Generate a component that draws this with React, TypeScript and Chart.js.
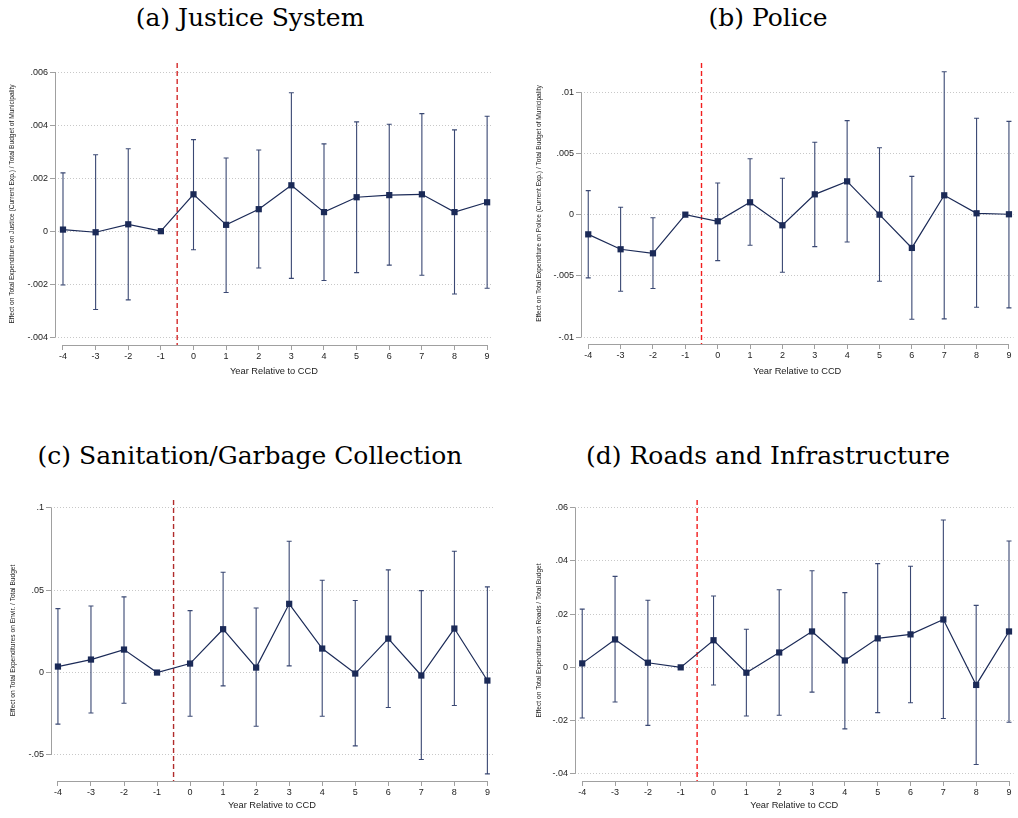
import React, { useEffect, useRef } from 'react';
import { Chart, registerables } from 'chart.js';

Chart.register(...registerables);

// ---------------- data ----------------
const years = [-4, -3, -2, -1, 0, 1, 2, 3, 4, 5, 6, 7, 8, 9];
const yearLabels = ['-4', '-3', '-2', '-1', '0', '1', '2', '3', '4', '5', '6', '7', '8', '9'];
const cutoffYear = -0.5;
const xAxisTitle = 'Year Relative to CCD';

// (a) Justice System
const justiceCoef = [0.00006, -0.00004, 0.00026, 0, 0.00139, 0.00024, 0.00083, 0.00173, 0.00072, 0.00128, 0.00136, 0.00139, 0.00072, 0.00109];
const justiceHi = [0.0022, 0.00288, 0.00311, 0, 0.00345, 0.00276, 0.00306, 0.00522, 0.00329, 0.00412, 0.00403, 0.00443, 0.00382, 0.00433];
const justiceLo = [-0.00203, -0.00295, -0.00259, 0, -0.0007, -0.00231, -0.00139, -0.00178, -0.00186, -0.00156, -0.00128, -0.00166, -0.00237, -0.00215];
const justiceTicks = [-0.004, -0.002, 0, 0.002, 0.004, 0.006];
const justiceTickLabels = ['-.004', '-.002', '0', '.002', '.004', '.006'];

// (b) Police
const policeCoef = [-0.00161, -0.00283, -0.00316, 0, -0.00054, 0.00101, -0.00087, 0.00166, 0.00272, 0.0, -0.00272, 0.00158, 0.00011, 0.00003];
const policeHi = [0.00196, 0.0006, -0.00025, 0, 0.00259, 0.00457, 0.00297, 0.00591, 0.00768, 0.00547, 0.00313, 0.01168, 0.00787, 0.00762];
const policeLo = [-0.00517, -0.00626, -0.00604, 0, -0.00376, -0.0025, -0.00471, -0.00261, -0.00223, -0.00544, -0.00855, -0.00852, -0.00757, -0.00762];
const policeTicks = [-0.01, -0.005, 0, 0.005, 0.01];
const policeTickLabels = ['-.01', '-.005', '0', '.005', '.01'];

// (c) Sanitation/Garbage Collection
const sanitationCoef = [0.00364, 0.00789, 0.01395, 0, 0.00546, 0.0263, 0.00303, 0.0417, 0.01456, -0.0006, 0.0206, -0.0018, 0.0267, -0.00485];
const sanitationHi = [0.0388, 0.0404, 0.0459, 0, 0.0376, 0.0609, 0.0392, 0.0797, 0.056, 0.0437, 0.0623, 0.0497, 0.0736, 0.052];
const sanitationLo = [-0.0313, -0.0245, -0.0186, 0, -0.0265, -0.0081, -0.0326, 0.00404, -0.0265, -0.0445, -0.0212, -0.0528, -0.02, -0.0615];
const sanitationTicks = [-0.05, 0, 0.05, 0.1];
const sanitationTickLabels = ['-.05', '0', '.05', '.1'];

// (d) Roads and Infrastructure
const roadsCoef = [0.0015, 0.0105, 0.00175, 0, 0.0102, -0.002, 0.0056, 0.0135, 0.0026, 0.0109, 0.0124, 0.018, -0.0066, 0.0135];
const roadsHi = [0.0219, 0.0342, 0.0252, 0, 0.0268, 0.0143, 0.0292, 0.0363, 0.0281, 0.039, 0.038, 0.0554, 0.0233, 0.0475];
const roadsLo = [-0.019, -0.013, -0.0218, 0, -0.0066, -0.0183, -0.018, -0.0093, -0.0231, -0.017, -0.0133, -0.0192, -0.0365, -0.0206];
const roadsTicks = [-0.04, -0.02, 0, 0.02, 0.04, 0.06];
const roadsTickLabels = ['-.04', '-.02', '0', '.02', '.04', '.06'];

// ---------------- styles ----------------
const NAVY = '#1b2a57';
const BAR = '#3a4873';
const AXIS = '#a0a0a0';
const GRID = '#c8c8c8';
const SANS = "'Liberation Sans', Arial, sans-serif";

type Panel = {
  title: string;
  yTitle: string;
  coef: number[];
  hi: number[];
  lo: number[];
  ticks: number[];
  tickLabels: string[];
  yMin: number;
  yMax: number;
  xMin: number;
  xMax: number;
  box: { x: number; y: number; w: number; h: number };
  yWidth: number;
  xHeight: number;
  padTop: number;
  padRight: number;
  yTitlePad: number;
  xTitlePad: number;
  titleCx: number;
  titleTop: number;
  red: string;
};

const panels: Panel[] = [
  {
    title: '(a) Justice System',
    yTitle: 'Effect on Total Expenditure on Justice (Current Exp.) / Total Budget of Municipality',
    coef: justiceCoef, hi: justiceHi, lo: justiceLo,
    ticks: justiceTicks, tickLabels: justiceTickLabels,
    yMin: -0.00429, yMax: 0.00634, xMin: -4.245, xMax: 9.18,
    box: { x: 0, y: 40, w: 500, h: 345 },
    yWidth: 55, xHeight: 40, padTop: 23, padRight: 7, yTitlePad: 8, xTitlePad: 8,
    titleCx: 250, titleTop: 3, red: '#d42a2a',
  },
  {
    title: '(b) Police',
    yTitle: 'Effect on Total Expenditure on Police (Current Exp.) / Total Budget of Municipality',
    coef: policeCoef, hi: policeHi, lo: policeLo,
    ticks: policeTicks, tickLabels: policeTickLabels,
    yMin: -0.01057, yMax: 0.01239, xMin: -4.224, xMax: 9.144,
    box: { x: 520, y: 40, w: 498, h: 345 },
    yWidth: 61, xHeight: 41, padTop: 23, padRight: 1, yTitlePad: 15, xTitlePad: 8,
    titleCx: 768, titleTop: 3, red: '#f21d1d',
  },
  {
    title: '(c) Sanitation/Garbage Collection',
    yTitle: 'Effect on Total Expenditures on Envir. / Total Budget',
    coef: sanitationCoef, hi: sanitationHi, lo: sanitationLo,
    ticks: sanitationTicks, tickLabels: sanitationTickLabels,
    yMin: -0.0658, yMax: 0.1047, xMin: -4.21, xMax: 9.17,
    box: { x: 0, y: 477, w: 500, h: 340 },
    yWidth: 51, xHeight: 36, padTop: 23, padRight: 7, yTitlePad: 9, xTitlePad: 6,
    titleCx: 250, titleTop: 441, red: '#b02c2c',
  },
  {
    title: '(d) Roads and Infrastructure',
    yTitle: 'Effect on Total Expenditures on Roads / Total Budget',
    coef: roadsCoef, hi: roadsHi, lo: roadsLo,
    ticks: roadsTicks, tickLabels: roadsTickLabels,
    yMin: -0.0427, yMax: 0.0629, xMin: -4.22, xMax: 9.14,
    box: { x: 520, y: 477, w: 498, h: 340 },
    yWidth: 55, xHeight: 36, padTop: 23, padRight: 1, yTitlePad: 15, xTitlePad: 6,
    titleCx: 768, titleTop: 441, red: '#f21d1d',
  },
];

function makeOverlay(p: Panel) {
  return {
    id: 'overlay',
    beforeDatasetsDraw(chart: any) {
      const { ctx, chartArea, scales } = chart;
      const x = scales.x;
      const y = scales.y;
      ctx.save();
      // axis lines spanning the tick range
      ctx.strokeStyle = AXIS;
      ctx.lineWidth = 1;
      ctx.beginPath();
      const yTop = y.getPixelForValue(p.ticks[p.ticks.length - 1]);
      const yBot = y.getPixelForValue(p.ticks[0]);
      ctx.moveTo(chartArea.left + 0.5, yTop);
      ctx.lineTo(chartArea.left + 0.5, yBot);
      const xL = x.getPixelForValue(years[0]);
      const xR = x.getPixelForValue(years[years.length - 1]);
      ctx.moveTo(xL, chartArea.bottom + 0.5);
      ctx.lineTo(xR, chartArea.bottom + 0.5);
      ctx.stroke();

      // vertical dashed cutoff line
      const xc = x.getPixelForValue(cutoffYear);
      ctx.strokeStyle = p.red;
      ctx.lineWidth = 1.4;
      ctx.setLineDash([5, 3]);
      ctx.beginPath();
      ctx.moveTo(xc, chartArea.top);
      ctx.lineTo(xc, chartArea.bottom);
      ctx.stroke();
      ctx.setLineDash([]);

      // confidence intervals with caps
      ctx.strokeStyle = BAR;
      ctx.lineWidth = 1.1;
      years.forEach((yr, i) => {
        if (p.hi[i] === p.lo[i]) return;
        const px = x.getPixelForValue(yr);
        const t = y.getPixelForValue(p.hi[i]);
        const b = y.getPixelForValue(p.lo[i]);
        ctx.beginPath();
        ctx.moveTo(px, t);
        ctx.lineTo(px, b);
        ctx.moveTo(px - 2.5, t);
        ctx.lineTo(px + 2.5, t);
        ctx.moveTo(px - 2.5, b);
        ctx.lineTo(px + 2.5, b);
        ctx.stroke();
      });
      ctx.restore();
    },
  };
}

function makeConfig(p: Panel): any {
  return {
    type: 'line',
    data: {
      datasets: [
        {
          data: years.map((yr, i) => ({ x: yr, y: p.coef[i] })),
          borderColor: NAVY,
          borderWidth: 1.2,
          pointStyle: 'rect',
          pointRadius: 4.4,
          pointBackgroundColor: NAVY,
          pointBorderColor: NAVY,
          pointBorderWidth: 0,
          tension: 0,
          clip: false,
        },
      ],
    },
    options: {
      responsive: false,
      animation: false,
      devicePixelRatio: 1,
      layout: { padding: { top: p.padTop, right: p.padRight, left: 0, bottom: 0 } },
      plugins: {
        legend: { display: false },
        tooltip: { enabled: false },
        title: { display: false },
      },
      scales: {
        x: {
          type: 'linear',
          min: p.xMin,
          max: p.xMax,
          afterBuildTicks: (s: any) => {
            s.ticks = years.map((v) => ({ value: v }));
          },
          afterFit: (s: any) => {
            s.height = p.xHeight;
          },
          ticks: {
            autoSkip: false,
            maxRotation: 0,
            padding: 1,
            color: '#222',
            font: { family: SANS, size: 9 },
            callback: (v: number) => yearLabels[years.indexOf(v)],
          },
          grid: {
            display: true,
            drawOnChartArea: false,
            drawTicks: true,
            tickLength: 5,
            tickColor: AXIS,
            color: AXIS,
          },
          border: { display: false },
          title: {
            display: true,
            text: xAxisTitle,
            color: '#222',
            font: { family: SANS, size: 9.3 },
            padding: { top: 0, bottom: p.xTitlePad },
          },
        },
        y: {
          type: 'linear',
          min: p.yMin,
          max: p.yMax,
          afterBuildTicks: (s: any) => {
            s.ticks = p.ticks.map((v) => ({ value: v }));
          },
          afterFit: (s: any) => {
            s.width = p.yWidth;
          },
          ticks: {
            autoSkip: false,
            padding: 2,
            color: '#222',
            font: { family: SANS, size: 9 },
            callback: (v: number) => p.tickLabels[p.ticks.indexOf(v)],
          },
          grid: {
            display: true,
            drawOnChartArea: true,
            drawTicks: true,
            tickLength: 5,
            tickColor: AXIS,
            color: GRID,
            lineWidth: 1,
          },
          border: { display: false, dash: [1, 2] },
          title: {
            display: true,
            text: p.yTitle,
            color: '#222',
            font: { family: SANS, size: 6.6 },
            padding: { top: p.yTitlePad, bottom: 0 },
          },
        },
      },
    },
    plugins: [makeOverlay(p)],
  };
}

function PanelChart({ p }: { p: Panel }) {
  const ref = useRef<HTMLCanvasElement>(null);
  useEffect(() => {
    if (!ref.current) return;
    const chart = new Chart(ref.current, makeConfig(p));
    return () => chart.destroy();
  }, [p]);
  return (
    <>
      <div
        style={{
          position: 'absolute',
          left: p.titleCx - 260,
          width: 520,
          top: p.titleTop,
          textAlign: 'center',
          fontFamily: "'DejaVu Serif', serif",
          fontSize: 25,
          lineHeight: '30px',
          color: '#000',
          whiteSpace: 'nowrap',
        }}
      >
        {p.title}
      </div>
      <canvas
        ref={ref}
        width={p.box.w}
        height={p.box.h}
        style={{
          position: 'absolute',
          left: p.box.x,
          top: p.box.y,
          width: p.box.w,
          height: p.box.h,
          display: 'block',
        }}
      />
    </>
  );
}

export default function App() {
  return (
    <div style={{ position: 'absolute', left: 0, top: 0, width: 1018, height: 818, background: '#fff', overflow: 'hidden' }}>
      {panels.map((p, i) => (
        <PanelChart key={i} p={p} />
      ))}
    </div>
  );
}
